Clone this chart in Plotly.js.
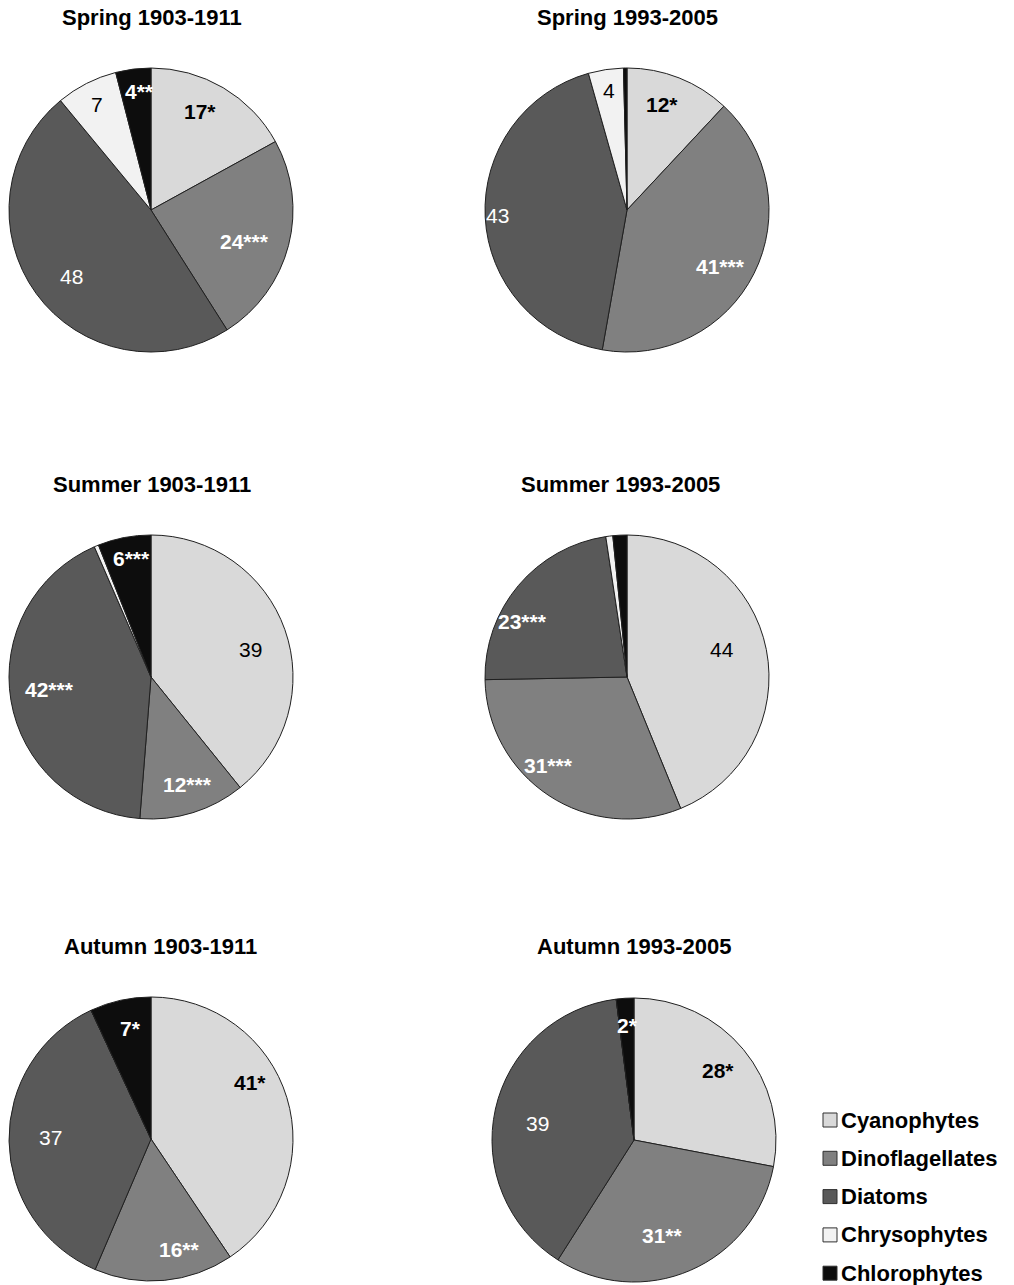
<!DOCTYPE html>
<html>
<head>
<meta charset="utf-8">
<script src="https://cdn.plot.ly/plotly-3.0.1.min.js"></script>
<style>
  html, body { margin: 0; padding: 0; background: #ffffff; }
  #chart { width: 1014px; height: 1285px; }
</style>
</head>
<body>
<div id="chart"></div>
<script>
// Phytoplankton groups, in clockwise order from 12 o'clock
const groups = ['Cyanophytes', 'Dinoflagellates', 'Diatoms', 'Chrysophytes', 'Chlorophytes'];

// Share of each group (%) per season and period
const spring1903 = [17, 24, 48, 7, 4];
const spring1993 = [12, 41, 43, 4, 0.4];
const summer1903 = [39, 12, 42, 0.5, 6];
const summer1993 = [44, 31, 23, 0.8, 1.6];
const autumn1903 = [41, 16, 37, 0, 7];
const autumn1993 = [28, 31, 39, 0, 2];

// Significance marks attached to each share
const spring1903Sig = ['*', '***', '', '', '**'];
const spring1993Sig = ['*', '***', '', '', ''];
const summer1903Sig = ['', '***', '***', '', '***'];
const summer1993Sig = ['', '***', '***', '', ''];
const autumn1903Sig = ['*', '**', '', '', '*'];
const autumn1993Sig = ['*', '**', '', '', '*'];

const panelTitles = ['Spring 1903-1911', 'Spring 1993-2005',
                     'Summer 1903-1911', 'Summer 1993-2005',
                     'Autumn 1903-1911', 'Autumn 1993-2005'];

// ---- styling ----
const W = 1014, H = 1285, R = 142;
const FONT = 'Liberation Sans, Arial, Helvetica, sans-serif';
const groupColors = ['#d9d9d9', '#808080', '#595959', '#f2f2f2', '#0d0d0d'];
const labelColors = ['#000000', '#ffffff', '#ffffff', '#000000', '#ffffff'];
const panelCenters = [[151, 210], [627, 210], [151, 677], [627, 677], [151, 1139], [634, 1140]];
const titleCenters = [[152, 18], [627, 18], [152, 484], [620, 484], [160, 946], [634, 946]];
// radial placement of each value label, as a fraction of the radius
const labelRadius = [
  [0.78, 0.69, 0.73, 0.83, 0.84],
  [0.78, 0.77, 0.91, 0.85, 0.85],
  [0.72, 0.79, 0.72, 0.85, 0.85],
  [0.70, 0.83, 0.84, 0.85, 0.85],
  [0.80, 0.80, 0.70, 0.80, 0.80],
  [0.77, 0.70, 0.69, 0.80, 0.80]
];
// fine nudges (px) so labels sit in the best-fitting spot of their slice
const labelNudge = [
  [[-7, -3], [-1, 7], [4, 6], [0, 0], [3, 0]],
  [[-6, -2], [-4, 8], [0, -1], [0, 0], [0, 0]],
  [[3, 7], [3, 0], [-1, -4], [0, 0], [3, 0]],
  [[-3, -8], [-14, -10], [-13, 21], [0, 0], [0, 0]],
  [[-10, -23], [18, -3], [-1, -3], [0, 0], [4, 0]],
  [[0, 0], [-11, 4], [-1, 5], [0, 0], [1, -1]]
];

const panels = [
  [spring1903, spring1903Sig], [spring1993, spring1993Sig],
  [summer1903, summer1903Sig], [summer1993, summer1993Sig],
  [autumn1903, autumn1903Sig], [autumn1993, autumn1993Sig]
];

const px = x => x / W;
const py = y => 1 - y / H;

const traces = [];
const annotations = [];
const shapes = [];

panels.forEach(([vals, sig], p) => {
  const [cx, cy] = panelCenters[p];
  traces.push({
    type: 'pie',
    labels: groups,
    values: vals,
    sort: false,
    direction: 'clockwise',
    rotation: 0,
    textinfo: 'none',
    hoverinfo: 'label+value',
    showlegend: false,
    marker: { colors: groupColors, line: { color: '#202020', width: 1 } },
    domain: { x: [px(cx - R), px(cx + R)], y: [py(cy + R), py(cy - R)] }
  });

  // value labels at the mid-angle of each slice
  const total = vals.reduce((a, b) => a + b, 0);
  let cum = 0;
  vals.forEach((v, i) => {
    const mid = (cum + v / 2) / total * 2 * Math.PI;
    cum += v;
    if (v < 2) return;
    const rr = labelRadius[p][i] * R;
    const [nx, ny] = labelNudge[p][i];
    const txt = Math.round(v) + sig[i];
    annotations.push({
      xref: 'paper', yref: 'paper',
      x: px(cx + rr * Math.sin(mid) + nx), y: py(cy - rr * Math.cos(mid) + ny),
      xanchor: 'center', yanchor: 'middle', showarrow: false,
      text: sig[i] ? '<b>' + txt + '</b>' : txt,
      font: { family: FONT, size: 21, color: labelColors[i] }
    });
  });

  annotations.push({
    xref: 'paper', yref: 'paper',
    x: px(titleCenters[p][0]), y: py(titleCenters[p][1]),
    xanchor: 'center', yanchor: 'middle', showarrow: false,
    text: '<b>' + panelTitles[p] + '</b>',
    font: { family: FONT, size: 22, color: '#000000' }
  });
});

// key of the groups, lower right
groups.forEach((g, i) => {
  const yc = 1120 + i * 38.3;
  shapes.push({
    type: 'rect', xref: 'paper', yref: 'paper',
    x0: px(823), x1: px(837), y0: py(yc + 7), y1: py(yc - 7),
    fillcolor: groupColors[i], line: { color: '#303030', width: 1 }
  });
  annotations.push({
    xref: 'paper', yref: 'paper',
    x: px(839), y: py(yc), xanchor: 'left', yanchor: 'middle', showarrow: false,
    text: '<b>' + g + '</b>',
    font: { family: FONT, size: 22, color: '#000000' }
  });
});

const layout = {
  width: W, height: H,
  margin: { l: 0, r: 0, t: 0, b: 0 },
  paper_bgcolor: '#ffffff', plot_bgcolor: '#ffffff',
  font: { family: FONT },
  showlegend: false,
  annotations: annotations,
  shapes: shapes
};

Plotly.newPlot('chart', traces, layout, { displayModeBar: false, staticPlot: true });
</script>
</body>
</html>
